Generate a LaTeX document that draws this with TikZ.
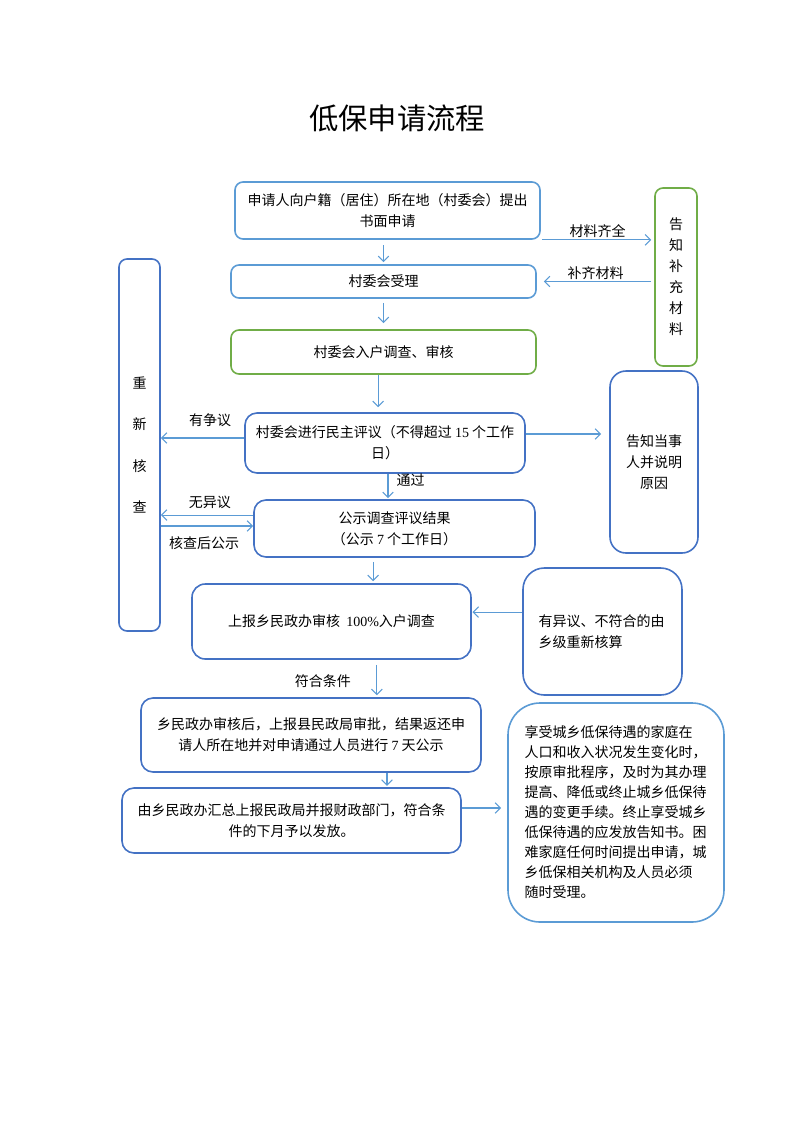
\documentclass[tikz,border=0pt]{standalone}
\usepackage{fontspec}
\setmainfont{Noto Sans CJK SC}
\newfontfamily\latin{Liberation Serif}
\usetikzlibrary{arrows.meta, positioning}
\definecolor{lblue}{RGB}{91,155,213}
\definecolor{dblue}{RGB}{68,114,196}
\definecolor{lgreen}{RGB}{112,173,71}

\begin{document}
\begin{tikzpicture}[x=0.75pt, y=-0.75pt, >={Straight Barb[length=4pt,width=8pt]},
    box/.style={draw=dblue, line width=1.2pt, rounded corners=6pt, align=center, inner sep=2pt,
      font=\fontsize{10.5}{16}\selectfont},
    line/.style={->, draw=lblue, line width=0.8pt},
    tag/.style={inner sep=1pt, font=\fontsize{10.5}{12}\selectfont}]
    \useasboundingbox (0,0) rectangle (793,1122);

    \node[font=\fontsize{22}{26}\selectfont] (title) at (397,118) {低保申请流程};

    \node[box, draw=lblue, minimum width=228.75pt, minimum height=42.75pt] (apply) at (387.5,210.5)
      {申请人向户籍（居住）所在地（村委会）提出\\书面申请};
    \node[box, draw=lblue, minimum width=228.75pt, minimum height=24.75pt] (accept) at (383.5,281.5) {村委会受理};
    \node[box, draw=lgreen, minimum width=228.75pt, minimum height=33pt] (survey) at (383.5,352) {村委会入户调查、审核};
    \node[box, minimum width=210pt, minimum height=45pt, rounded corners=9pt] (review) at (385,443)
      {村委会进行民主评议（不得超过 {\latin 15} 个工作\\日）};
    \node[box, minimum width=210.75pt, minimum height=42.75pt, rounded corners=9pt] (publicity) at (394.5,528.5)
      {公示调查评议结果\\（公示 {\latin 7} 个工作日）};
    \node[box, minimum width=209.25pt, minimum height=56.25pt, rounded corners=10pt] (township) at (331.5,621.5)
      {上报乡民政办审核\ \ {\latin 100\%}入户调查};
    \node[box, minimum width=255pt, minimum height=55.5pt, rounded corners=9pt] (county) at (311,735)
      {乡民政办审核后，上报县民政局审批，结果返还申\\请人所在地并对申请通过人员进行 {\latin 7} 天公示};
    \node[box, minimum width=254.25pt, minimum height=48.75pt, rounded corners=9pt] (payout) at (291.5,820.5)
      {由乡民政办汇总上报民政局并报财政部门，符合条\\件的下月予以发放。};

    \node[box, draw=lgreen, minimum width=31.5pt, minimum height=133.5pt, font=\fontsize{10.5}{15.75}\selectfont]
      (supplement) at (676,277) {告\\知\\补\\充\\材\\料};
    \node[box, minimum width=30.75pt, minimum height=279pt, font=\fontsize{10.5}{31}\selectfont]
      (recheck) at (139.5,445) {重\\新\\核\\查};
    \node[box, minimum width=66pt, minimum height=136.5pt, rounded corners=12pt] (notify) at (654,462)
      {告知当事\\人并说明\\原因};
    \node[box, minimum width=119.25pt, minimum height=95.25pt, rounded corners=16pt, align=left, text width=96pt]
      (recalc) at (602.5,631.5) {有异议、不符合的由\\乡级重新核算};
    \node[box, draw=lblue, minimum width=162pt, minimum height=164.25pt, rounded corners=24pt, align=left,
      text width=137pt, font=\fontsize{10.5}{15}\selectfont] (change) at (616,812.5)
      {享受城乡低保待遇的家庭在\\人口和收入状况发生变化时，\\按原审批程序，及时为其办理\\提高、降低或终止城乡低保待\\遇的变更手续。终止享受城乡\\低保待遇的应发放告知书。困\\难家庭任何时间提出申请，城\\乡低保相关机构及人员必须\\随时受理。};

    \draw[line, shorten <=4pt, shorten >=1.5pt] (apply.south -| accept.north) -- (accept.north);
    \draw[line, shorten <=3pt, shorten >=4.5pt] (accept) -- (survey);
    \draw[line, shorten >=3.75pt] ([xshift=-4pt]survey.south) -- ([xshift=-4pt]survey.south |- review.north);
    \draw[line, shorten >=0.75pt] ([xshift=2.25pt]review.south) -- ([xshift=2.25pt]review.south |- publicity.north)
      node[tag, pos=0.26, right=5pt] {通过};
    \draw[line, shorten <=3pt, shorten >=1.5pt] ([xshift=-16pt]publicity.south) -- ([xshift=-16pt]publicity.south |- township.north);
    \draw[line, shorten <=3.75pt, shorten >=1.5pt] ([xshift=34pt]township.south) -- ([xshift=34pt]township.south |- county.north)
      node[tag, pos=0.56, left=18pt] {符合条件};
    \draw[line, shorten >=1pt] ([xshift=57pt]county.south) -- ([xshift=57pt]county.south |- payout.north);

    \draw[line, shorten <=0.75pt, shorten >=2.25pt] (apply.south east) -- (apply.south east -| supplement.west)
      node[tag, midway, above] {材料齐全};
    \draw[line, shorten <=2.25pt, shorten >=5.25pt] (supplement.west |- accept.east) -- (accept.east)
      node[tag, midway, above=0pt] {补齐材料};
    \draw[line] ([yshift=3.75pt]review.west) -- ([yshift=3.75pt]review.west -| recheck.east)
      node[tag, pos=0.41, above=7pt] {有争议};
    \draw[line, shorten >=6pt] ([yshift=6.75pt]review.east) -- ([yshift=6.75pt]review.east -| notify.west);
    \draw[line] ([yshift=10.1pt]publicity.west) -- ([yshift=10.1pt]publicity.west -| recheck.east)
      node[tag, pos=0.47, above=3pt] {无异议};
    \draw[line] ([yshift=1.9pt]publicity.west -| recheck.east) -- ([yshift=1.9pt]publicity.west)
      node[tag, pos=0.47, below=7pt] {核查后公示};
    \draw[line, shorten >=0.5pt] ([yshift=14.6pt]recalc.west) -- ([yshift=14.6pt]recalc.west -| township.east);
    \draw[line, shorten >=4.5pt] ([yshift=9.4pt]payout.east) -- ([yshift=9.4pt]payout.east -| change.west);
\end{tikzpicture}
\end{document}
